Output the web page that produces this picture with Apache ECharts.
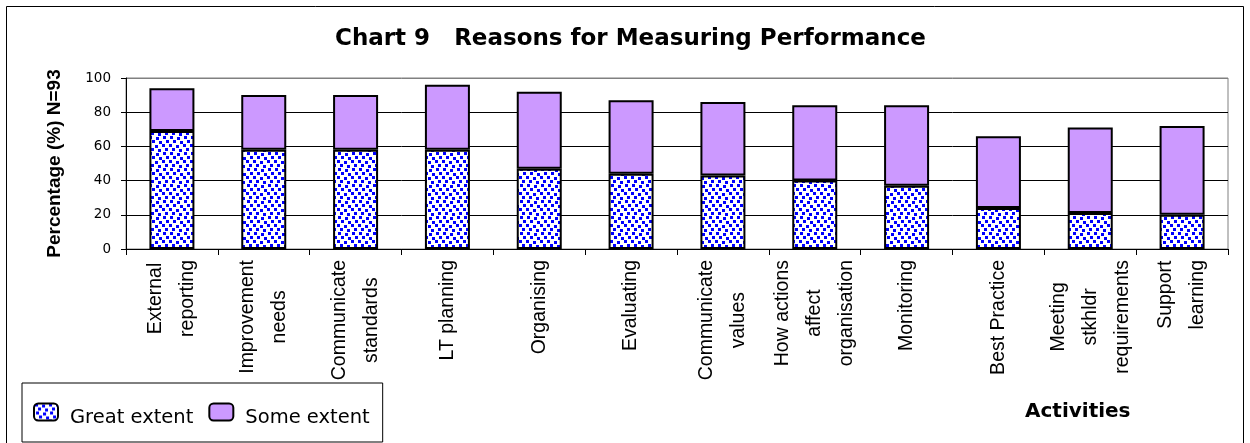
<!DOCTYPE html>
<html>
<head>
<meta charset="utf-8">
<script src="https://cdn.jsdelivr.net/npm/echarts@6/dist/echarts.min.js"></script>
<style>
  html, body { margin: 0; padding: 0; background: #fff; }
  #chart { width: 1250px; height: 443px; }
</style>
</head>
<body>
<div id="chart"></div>
<script>
// Survey results: share of respondents (%) per reason, N=93
const categories = [
  'External\nreporting',
  'Improvement\nneeds',
  'Communicate\nstandards',
  'LT planning',
  'Organising',
  'Evaluating',
  'Communicate\nvalues',
  'How actions\naffect\norganisation',
  'Monitoring',
  'Best Practice',
  'Meeting\nstkhldr\nrequirements',
  'Support\nlearning'
];
const greatExtent = [69, 58, 58, 58, 47, 44, 43, 40, 37, 24, 21, 20];
const someExtent  = [25, 32, 32, 38, 45, 43, 43, 44, 47, 42, 50, 52];
const seriesNames = ['Great extent', 'Some extent'];
const yTicks = { min: 0, max: 100, step: 20 };

// Blue confetti fill used for the "Great extent" segments
function confettiPattern() {
  const W = 21, H = 16;
  const c = document.createElement('canvas');
  c.width = W; c.height = H;
  const g = c.getContext('2d');
  g.fillStyle = '#ffffff';
  g.fillRect(0, 0, W, H);
  g.fillStyle = '#0000ff';
  const dots = [
    [1, 0], [8, 1], [15, 0],
    [4, 4], [11, 5], [18, 4],
    [2, 8], [9, 9], [16, 8],
    [5, 12], [12, 13], [19, 12]
  ];
  dots.forEach(([x, y]) => {
    g.fillRect(x, y, 3, 3);
    if (x + 3 > W) g.fillRect(x - W, y, 3, 3);
    if (y + 3 > H) g.fillRect(x, y - H, 3, 3);
  });
  return c;
}

const chart = echarts.init(document.getElementById('chart'), null, { renderer: 'canvas' });

const labelFont = 'Liberation Sans, Arial, sans-serif';
const textFont = 'DejaVu Sans, sans-serif';

chart.setOption({
  backgroundColor: '#ffffff',
  animation: false,
  title: [
    {
      text: 'Chart 9   Reasons for Measuring Performance',
      left: 335, top: 28, padding: 0,
      textStyle: { fontFamily: textFont, fontWeight: 'bold', fontSize: 23, color: '#000' }
    },
    {
      text: 'Activities',
      left: 1025, top: 402, padding: 0,
      textStyle: { fontFamily: textFont, fontWeight: 'bold', fontSize: 20, color: '#000' }
    }
  ],
  graphic: [{
    type: 'rect', silent: true, z: -1,
    shape: { x: 6.5, y: 6.5, width: 1237, height: 460 },
    style: { fill: 'none', stroke: '#000', lineWidth: 1 }
  }],
  legend: {
    left: 22, top: 383,
    orient: 'horizontal',
    padding: [13, 13, 14, 11],
    borderColor: '#000', borderWidth: 1,
    itemWidth: 24, itemHeight: 17, itemGap: 15,
    formatter: name => '{t|' + name + '}',
    textStyle: {
      fontFamily: textFont, fontSize: 19.5, color: '#000',
      rich: {
        t: { fontFamily: textFont, fontSize: 19.5, lineHeight: 24, color: '#000', padding: [12, 0, 0, 7] }
      }
    },
    data: seriesNames
  },
  grid: {
    left: 126, right: 22, top: 78, bottom: 194,
    show: true, borderColor: '#808080', borderWidth: 1, backgroundColor: 'transparent'
  },
  xAxis: {
    type: 'category',
    data: categories,
    boundaryGap: true,
    axisLine: { lineStyle: { color: '#000', width: 1 } },
    axisTick: { show: true, length: 6, lineStyle: { color: '#000' } },
    axisLabel: {
      interval: 0,
      rotate: 90,
      margin: 11,
      formatter: v => v.split('\n').map(s => '{c|' + s + '}').join('\n'),
      rich: {
        c: { fontFamily: labelFont, fontSize: 19.5, lineHeight: 32, color: '#000', align: 'center' }
      }
    }
  },
  yAxis: {
    type: 'value',
    min: yTicks.min, max: yTicks.max, interval: yTicks.step,
    name: 'Percentage (%) N=93',
    nameLocation: 'middle',
    nameRotate: 90,
    nameGap: 62,
    nameTextStyle: { fontFamily: labelFont, fontWeight: 'bold', fontSize: 19, color: '#000' },
    axisLine: { show: true, lineStyle: { color: '#000', width: 1 } },
    axisTick: { show: true, length: 5, lineStyle: { color: '#000' } },
    axisLabel: { fontFamily: textFont, fontSize: 13.5, color: '#000', margin: 15 },
    splitLine: {
      show: true,
      lineStyle: { color: ['#000', '#000', '#000', '#000', '#000', '#808080'], width: 1 }
    }
  },
  series: [
    {
      name: seriesNames[0],
      type: 'bar',
      stack: 'total',
      barWidth: 45,
      data: greatExtent,
      itemStyle: {
        color: { image: confettiPattern(), repeat: 'repeat' },
        borderColor: '#000', borderWidth: 2
      }
    },
    {
      name: seriesNames[1],
      type: 'bar',
      stack: 'total',
      barWidth: 45,
      data: someExtent,
      itemStyle: { color: '#cc99ff', borderColor: '#000', borderWidth: 2 }
    }
  ]
});
</script>
</body>
</html>
